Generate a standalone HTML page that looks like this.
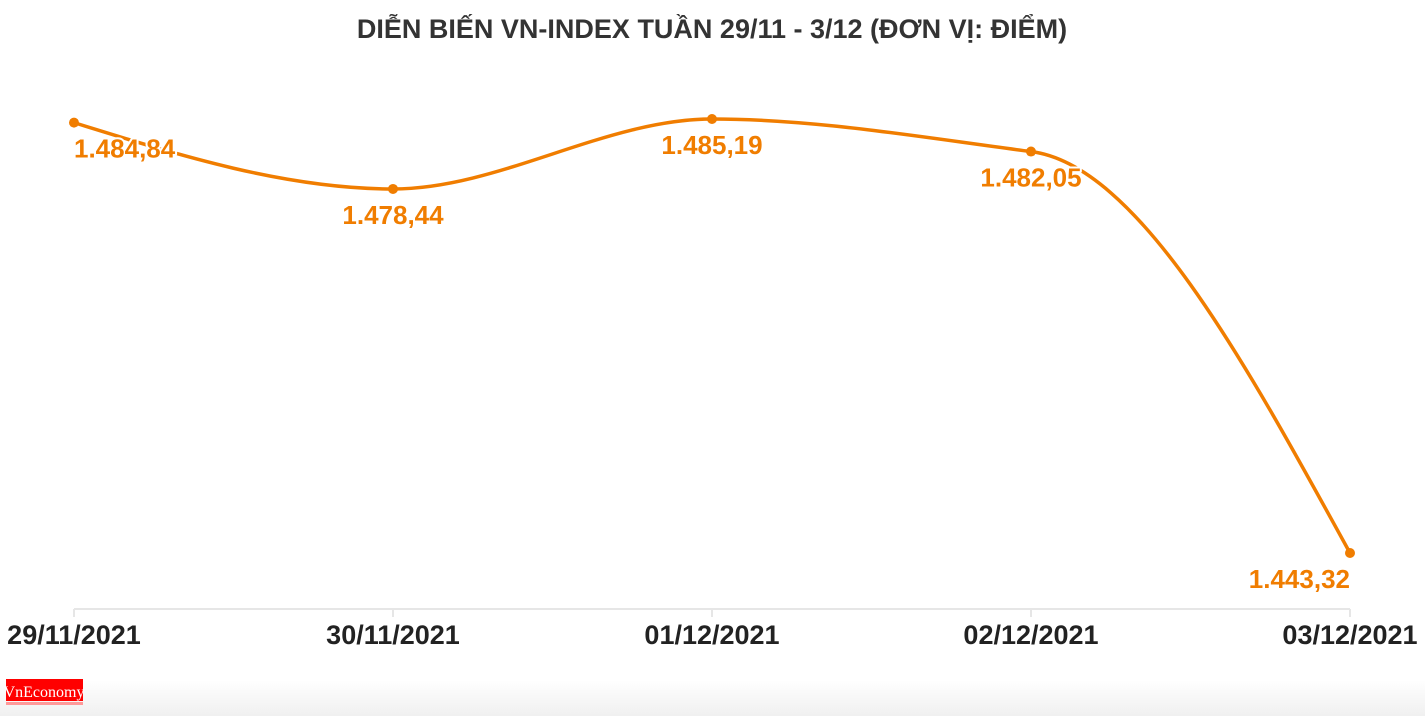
<!DOCTYPE html>
<html><head><meta charset="utf-8"><style>
html,body{margin:0;padding:0;background:#fff;width:1425px;height:716px;overflow:hidden}
svg text{font-family:"Liberation Sans","DejaVu Sans",sans-serif;font-weight:bold}
</style></head><body>
<svg id="c" width="1425" height="716">
<defs><linearGradient id="fg" x1="0" y1="0" x2="0" y2="1"><stop offset="0" stop-color="#fff"/><stop offset="1" stop-color="#f0f0f0"/></linearGradient></defs>
<rect x="0" y="680" width="1425" height="36" fill="url(#fg)"/>
<text x="712" y="38" text-anchor="middle" font-size="27" fill="#333">DIỄN BIẾN VN-INDEX TUẦN 29/11 - 3/12 (ĐƠN VỊ: ĐIỂM)</text>
<g id="axis"></g>
<path id="line" fill="none" stroke="#F07D00" stroke-width="3.5"/>
<g id="marks"></g>
<g>
<rect x="6" y="679" width="77" height="22" fill="#f00"/>
<text x="44" y="697" text-anchor="middle" font-size="16" fill="#fff" style="font-family:'Liberation Serif',serif;font-weight:normal">VnEconomy</text>
<rect x="6" y="702" width="77" height="3" fill="#f99"/>
</g>
</svg>
<script>
const categories=["29/11/2021","30/11/2021","01/12/2021","02/12/2021","03/12/2021"];
const values=[1484.84,1478.44,1485.19,1482.05,1443.32];
const valueLabels=["1.484,84","1.478,44","1.485,19","1.482,05","1.443,32"];
const NS="http://www.w3.org/2000/svg";
const x0=74,x1=1350;
const xs=i=>x0+i*(x1-x0)/(categories.length-1);
const vmax=Math.max(...values),vmin=Math.min(...values);
const ys=v=>119+(vmax-v)*(553-119)/(vmax-vmin);
function mk(t,a,p){const e=document.createElementNS(NS,t);for(const k in a)e.setAttribute(k,a[k]);p.appendChild(e);return e;}
const axis=document.getElementById('axis');
mk('line',{x1:x0,x2:x1,y1:609,y2:609,stroke:'#e6e6e6','stroke-width':2},axis);
categories.forEach((c,i)=>{
  const t=mk('line',{x1:xs(i),x2:xs(i),y1:609,y2:617,stroke:'#e6e6e6','stroke-width':2},axis);
  
  
  const l=mk('text',{x:xs(i),y:644,'text-anchor':'middle','font-size':27,fill:'#222'},axis);
  
  
  l.textContent=c;
});
const P=values.map((v,i)=>[xs(i),ys(v)]);
const n=P.length,d=[],m=[];
for(let i=0;i<n-1;i++)d.push((P[i+1][1]-P[i][1])/(P[i+1][0]-P[i][0]));
for(let i=0;i<n;i++){
  if(i==0)m.push(d[0]);else if(i==n-1)m.push(d[n-2]);
  else m.push(d[i-1]*d[i]<=0?0:(3*(d[i-1]+d[i]))/((d[i-1]?1/d[i-1]*2:0)+(d[i]?1/d[i]:0)+ (d[i-1]?1/d[i-1]:0)+(d[i]?2/d[i]:0)) );
}
m[0]=(3*d[0]-m[1])/2; m[n-1]=(3*d[n-2]-m[n-2])/2;
let path=`M${P[0][0]},${P[0][1]}`;
for(let i=0;i<n-1;i++){const h=(P[i+1][0]-P[i][0])/3;
path+=` C${P[i][0]+h},${P[i][1]+m[i]*h} ${P[i+1][0]-h},${P[i+1][1]-m[i+1]*h} ${P[i+1][0]},${P[i+1][1]}`;}
document.getElementById('line').setAttribute('d',path);
const marks=document.getElementById('marks');
values.forEach((v,i)=>{
  const c=mk('circle',{cx:xs(i),cy:ys(v),r:5,fill:'#F07D00'},marks);
  
  
  const anchor=i==0?'start':(i==n-1?'end':'middle');
  const t=mk('text',{x:xs(i),y:ys(v)+35,'text-anchor':anchor,'font-size':26,fill:'#F07D00',stroke:'#fff','stroke-width':4,'paint-order':'stroke','stroke-linejoin':'round'},marks);
  
  
  t.textContent=valueLabels[i];
});
</script>
</body></html>
